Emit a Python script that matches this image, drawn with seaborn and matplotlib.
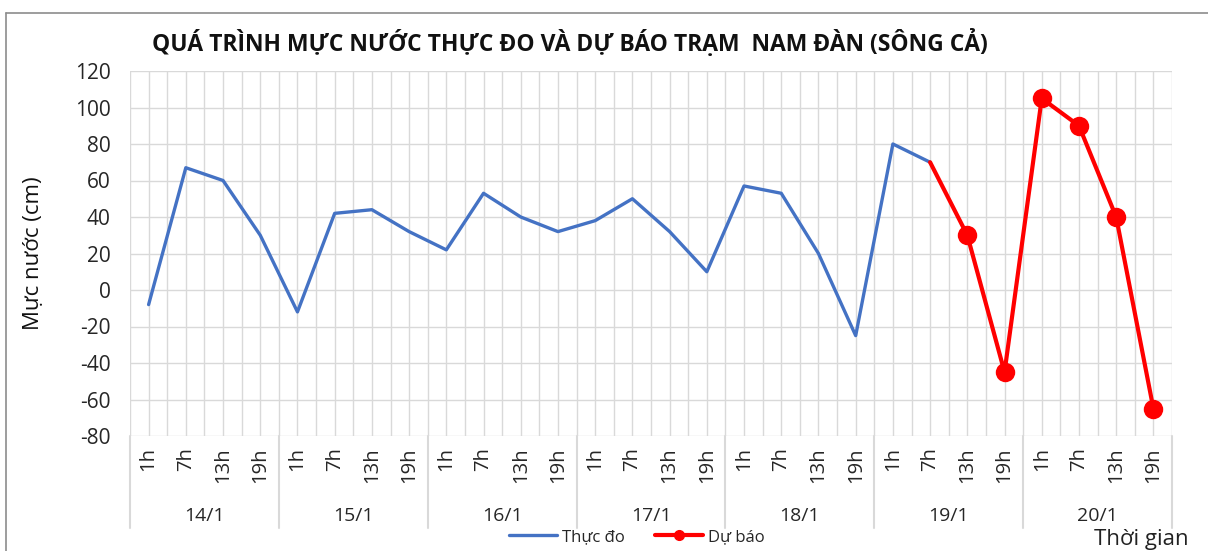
import pandas as pd
import matplotlib.pyplot as plt
import numpy as np
import seaborn as sns
from matplotlib.lines import Line2D
import matplotlib.transforms as mtransforms

# data
days = ['14/1', '15/1', '16/1', '17/1', '18/1', '19/1', '20/1']
hours = ['1h', '7h', '13h', '19h']
observed = [-8, 67, 60, 30,
            -12, 42, 44, 32,
            22, 53, 40, 32,
            38, 50, 32, 10,
            57, 53, 20, -25,
            80, 70]
forecast = [70, 30, -45, 105, 90, 40, -65]
forecast_start = 21  # index of 19/1 7h

title = 'QUÁ TRÌNH MỰC NƯỚC THỰC ĐO VÀ DỰ BÁO TRẠM  NAM ĐÀN (SÔNG CẢ)'

sns.set_style('white')
plt.rcParams['font.family'] = ['Open Sans', 'DejaVu Sans']
plt.rcParams['axes.unicode_minus'] = False

hour_labels = [h for d in days for h in hours]
n = len(hour_labels)

obs_df = pd.DataFrame({'idx': np.arange(len(observed)), 'val': observed})
fc_df = pd.DataFrame({'idx': np.arange(forecast_start, forecast_start + len(forecast)),
                      'val': forecast})

W, H = 1208, 551
fig = plt.figure(figsize=(W / 100, H / 100), dpi=100)
ax = fig.add_axes([130 / W, 1 - 436 / H, (1172 - 130) / W, (436 - 71) / H])

blue = '#4472C4'
red = '#FF0000'
sns.lineplot(data=obs_df, x='idx', y='val', ax=ax, color=blue, lw=2.4)
sns.lineplot(data=fc_df, x='idx', y='val', ax=ax, color=red, lw=3,
             marker='o', markersize=14, markeredgewidth=0,
             markevery=list(range(1, len(forecast))))

ax.set_xlim(-0.5, n - 0.5)
ax.set_ylim(-80, 120)
ax.set_yticks(np.arange(-80, 121, 20))
ax.set_xticks(np.arange(n))
ax.set_xticklabels(hour_labels, rotation=90)
ax.set_xticks(np.arange(-0.5, n, 1), minor=True)
ax.grid(True, which='both', color='#d9d9d9', lw=1)
for s in ax.spines.values():
    s.set_visible(False)
ax.tick_params(axis='both', which='both', length=0)
ax.tick_params(axis='y', labelsize=15, pad=14, colors='#262626')
ax.tick_params(axis='x', labelsize=14.5, pad=8, colors='#262626')
for lab in ax.get_xticklabels():
    lab.set_verticalalignment('top')

ax.set_xlabel('')
ax.set_ylabel('Mực nước (cm)', fontsize=16, color='#111111')
ax.yaxis.set_label_coords(-(130 - 44) / 1042, 0.5)

# day level of the category axis
trans = mtransforms.blended_transform_factory(ax.transData, ax.transAxes)
for i, d in enumerate(days):
    ax.text(i * 4 + 1.5, -0.219, d, transform=trans, ha='center', va='center',
            fontsize=14, color='#262626')
for b in np.arange(-0.5, n, 4):
    ax.plot([b, b], [0, -0.252], transform=trans, color='#d9d9d9', lw=1.5,
            clip_on=False)

fig.text(570 / W, 1 - 43 / H, title, ha='center', va='center',
         fontsize=16.5, fontweight='bold', color='#111111')

handles = [Line2D([], [], color=blue, lw=2.4),
           Line2D([], [], color=red, lw=3, marker='o', markersize=7)]
fig.legend(handles, ['Thực đo', 'Dự báo'], loc='center', ncol=2,
           bbox_to_anchor=(637 / W, 1 - 537 / H), frameon=False, fontsize=12,
           handlelength=2.9, handletextpad=0.3, columnspacing=1.8)

fig.text(1141 / W, 1 - 539 / H, 'Thời gian', ha='center', va='center',
         fontsize=16, color='#222222')

# outer chart frame
fig.add_artist(Line2D([6 / W, 6 / W], [0, 1 - 13 / H], color='#8c8c8c', lw=1.2))
fig.add_artist(Line2D([6 / W, 1], [1 - 13 / H, 1 - 13 / H], color='#8c8c8c', lw=1.2))

fig.savefig('out.png', dpi=100)
